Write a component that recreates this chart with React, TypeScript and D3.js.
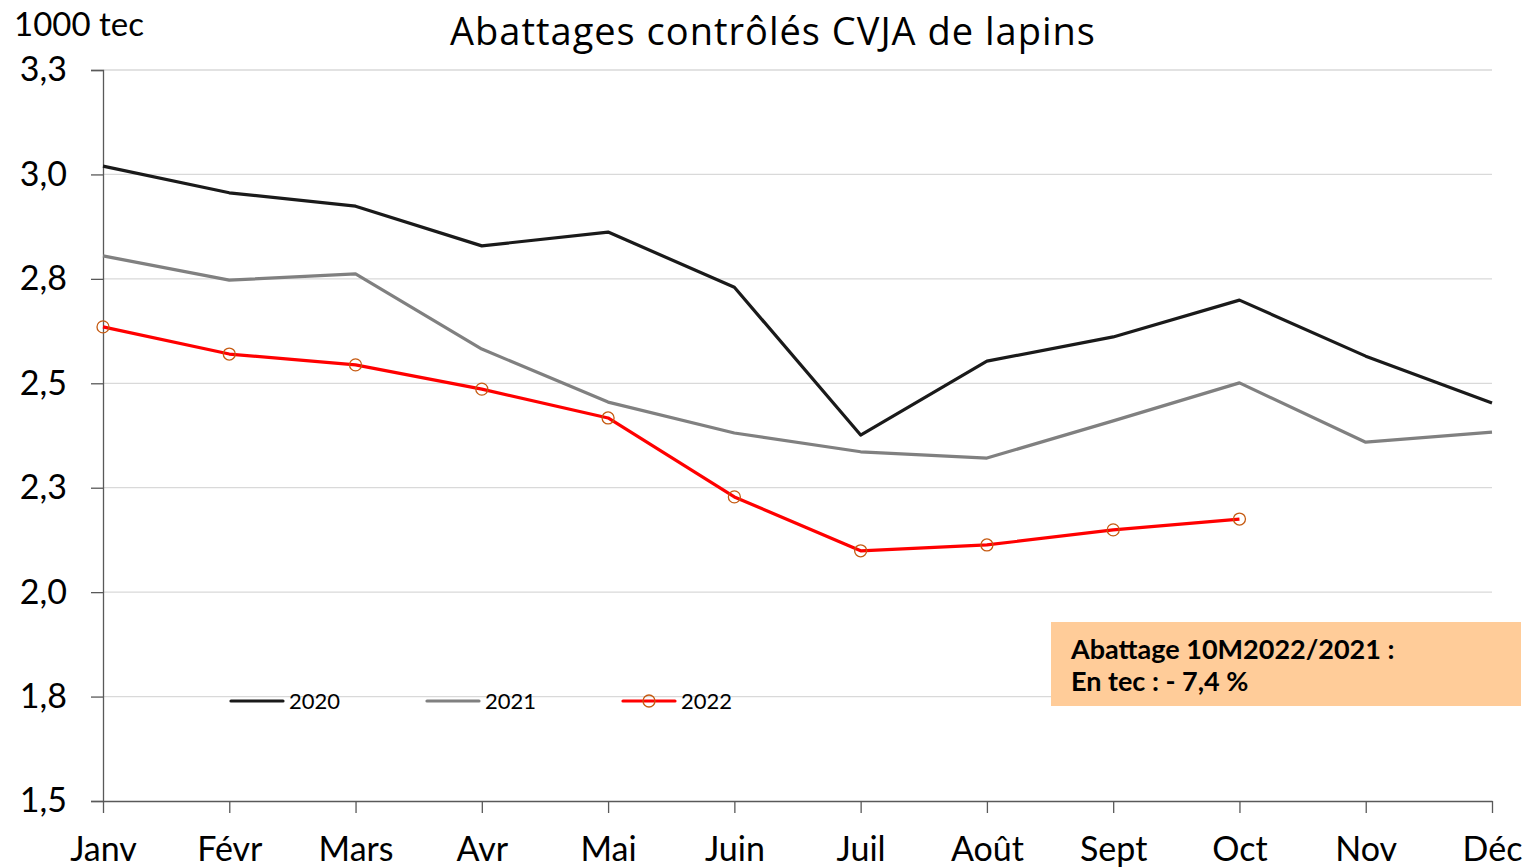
import { useEffect, useRef } from 'react';
import * as d3 from 'd3';

const months = ['Janv', 'Févr', 'Mars', 'Avr', 'Mai', 'Juin', 'Juil', 'Août', 'Sept', 'Oct', 'Nov', 'Déc'];
const v2020 = [3.02, 2.956, 2.924, 2.829, 2.862, 2.73, 2.376, 2.553, 2.611, 2.699, 2.565, 2.453];
const v2021 = [2.805, 2.747, 2.762, 2.582, 2.455, 2.381, 2.336, 2.321, 2.41, 2.501, 2.359, 2.383];
const v2022 = [2.635, 2.57, 2.544, 2.486, 2.417, 2.228, 2.099, 2.113, 2.149, 2.175];
const yTicks = [1.5, 1.75, 2.0, 2.25, 2.5, 2.75, 3.0, 3.25];

const series = [
  { name: '2020', values: v2020, color: '#1a1a1a', marker: false },
  { name: '2021', values: v2021, color: '#808080', marker: false },
  { name: '2022', values: v2022, color: '#ff0000', marker: true },
];

const App = () => {
  const svgRef = useRef(null);

  useEffect(() => {
    const svg = d3.select(svgRef.current);
    svg.selectAll('*').remove();

    const font = 'Lato, "Open Sans", sans-serif';
    const titleFont = '"Open Sans", "Noto Sans", sans-serif';
    const left = 103, right = 1492, top = 70, bottom = 801;

    const x = d3.scalePoint().domain(months).range([left, right]);
    const y = d3.scaleLinear().domain([1.5, 3.25]).range([bottom, top]);

    // gridlines
    svg.append('g')
      .selectAll('line')
      .data(yTicks.slice(1))
      .enter()
      .append('line')
      .attr('x1', left)
      .attr('x2', right)
      .attr('y1', d => y(d))
      .attr('y2', d => y(d))
      .attr('stroke', '#d9d9d9')
      .attr('stroke-width', 1.3);

    // y axis
    const yAxis = svg.append('g')
      .attr('transform', `translate(${left},0)`)
      .call(d3.axisLeft(y).tickValues(yTicks).tickSize(12).tickPadding(24)
        .tickFormat(d => d3.format('.1f')(d).replace('.', ',')));
    yAxis.select('.domain').attr('stroke', '#595959').attr('stroke-width', 1.3);
    yAxis.selectAll('.tick line').attr('stroke', '#595959').attr('stroke-width', 1.3);
    yAxis.selectAll('text')
      .style('font-family', font)
      .style('font-size', '34px')
      .attr('fill', '#000');

    // x axis
    const xAxis = svg.append('g')
      .attr('transform', `translate(0,${bottom})`)
      .call(d3.axisBottom(x).tickSize(12).tickSizeOuter(0).tickPadding(24));
    xAxis.select('.domain').attr('stroke', '#595959').attr('stroke-width', 1.3);
    xAxis.selectAll('.tick line').attr('stroke', '#595959').attr('stroke-width', 1.3);
    xAxis.selectAll('text')
      .style('font-family', font)
      .style('font-size', '34px')
      .attr('fill', '#000');

    // lines
    const line = d3.line<number>()
      .x((d, i) => x(months[i]))
      .y(d => y(d));

    series.forEach(s => {
      svg.append('path')
        .datum(s.values)
        .attr('d', line)
        .attr('fill', 'none')
        .attr('stroke', s.color)
        .attr('stroke-width', 3.2)
        .attr('stroke-linejoin', 'round');
      if (s.marker) {
        svg.append('g')
          .selectAll('circle')
          .data(s.values)
          .enter()
          .append('circle')
          .attr('cx', (d, i) => x(months[i]))
          .attr('cy', d => y(d))
          .attr('r', 6)
          .attr('fill', 'none')
          .attr('stroke', '#c55a11')
          .attr('stroke-width', 1.3);
      }
    });

    // legend
    const legend = svg.append('g').attr('transform', 'translate(231,701)');
    series.forEach((s, i) => {
      const g = legend.append('g').attr('transform', `translate(${i * 196},0)`);
      g.append('line')
        .attr('x1', 0).attr('x2', 52)
        .attr('y1', 0).attr('y2', 0)
        .attr('stroke', s.color)
        .attr('stroke-width', 3.2)
        .attr('stroke-linecap', 'round');
      if (s.marker) {
        g.append('circle')
          .attr('cx', 26).attr('cy', 0).attr('r', 6)
          .attr('fill', 'none')
          .attr('stroke', '#c55a11')
          .attr('stroke-width', 1.3);
      }
      g.append('text')
        .attr('x', 58)
        .attr('y', 8)
        .style('font-family', font)
        .style('font-size', '22px')
        .text(s.name);
    });

    // annotation box
    svg.append('rect')
      .attr('x', 1051).attr('y', 622)
      .attr('width', 470).attr('height', 84)
      .attr('fill', '#ffcc99');
    svg.append('text')
      .attr('x', 1071).attr('y', 659)
      .style('font-family', font)
      .style('font-size', '27px')
      .style('font-weight', 'bold')
      .text('Abattage 10M2022/2021 :');
    svg.append('text')
      .attr('x', 1071).attr('y', 691)
      .style('font-family', font)
      .style('font-size', '27px')
      .style('font-weight', 'bold')
      .text('En tec : - 7,4 %');

    // title
    svg.append('text')
      .attr('x', 773).attr('y', 45)
      .attr('text-anchor', 'middle')
      .style('font-family', titleFont)
      .style('font-size', '38px')
      .style('letter-spacing', '1px')
      .text('Abattages contrôlés CVJA de lapins');

    // unit label
    svg.append('text')
      .attr('x', 14).attr('y', 36)
      .style('font-family', font)
      .style('font-size', '33px')
      .text('1000 tec');
  }, []);

  return (
    <svg
      ref={svgRef}
      width={1525}
      height={867}
      style={{ position: 'absolute', left: 0, top: 0, background: '#fff' }}
    ></svg>
  );
};

export default App;
